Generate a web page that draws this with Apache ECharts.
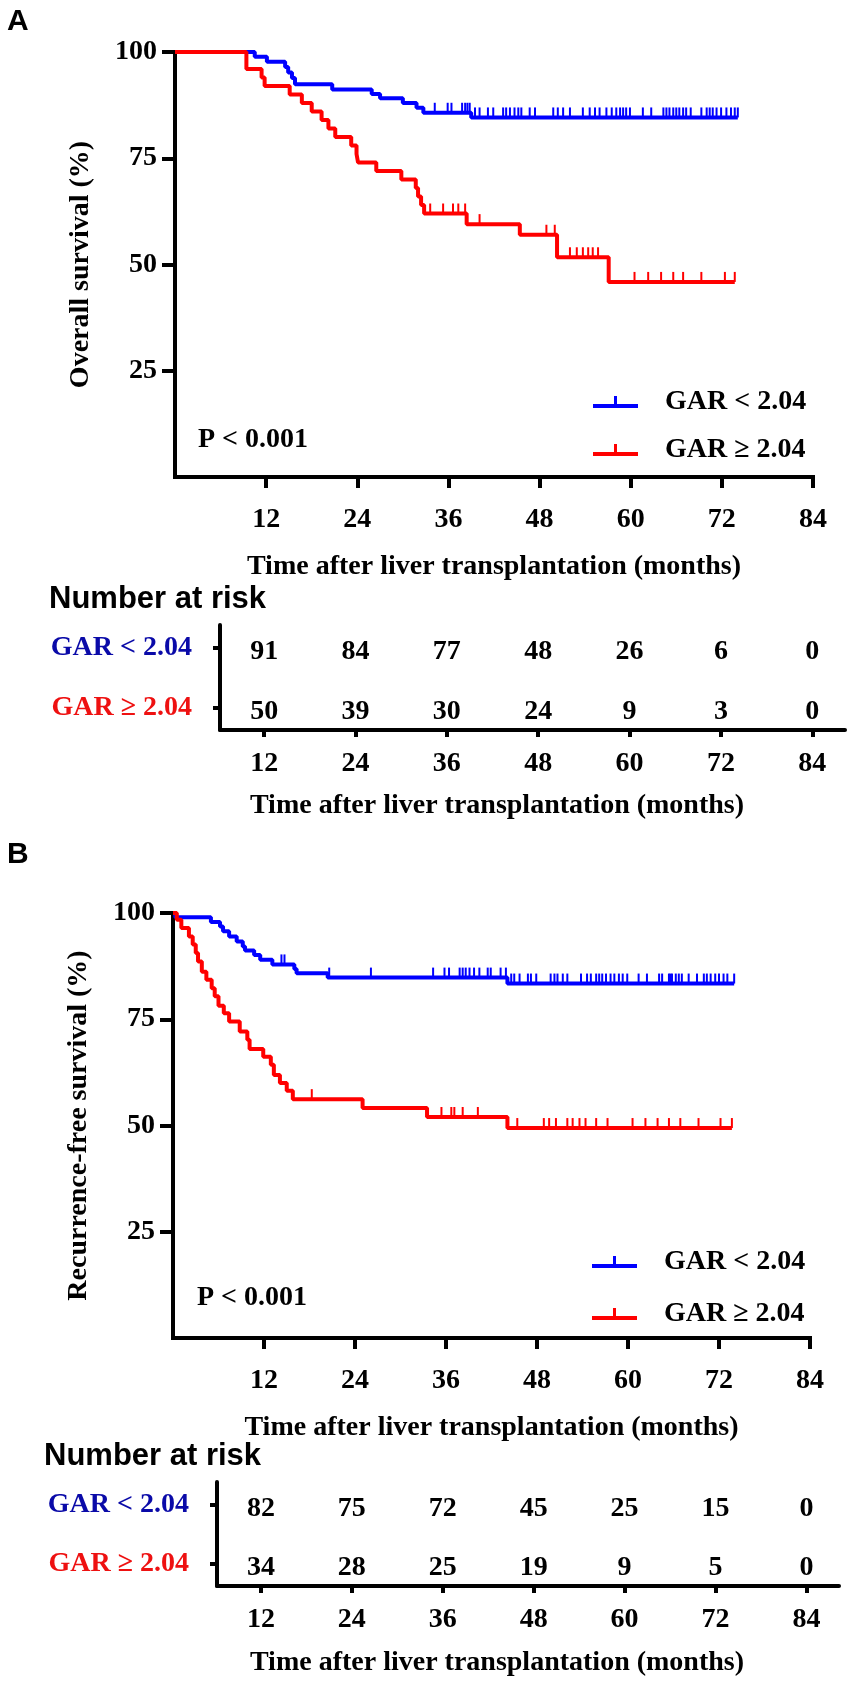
<!DOCTYPE html>
<html>
<head>
<meta charset="utf-8">
<script src="https://cdn.jsdelivr.net/npm/echarts@6/dist/echarts.min.js"></script>
<style>
  html, body { margin: 0; padding: 0; background: #fff; }
  #main { width: 851px; height: 1684px; }
</style>
</head>
<body>
<div id="main"></div>
<script>
// ---- data ----
const tickMonths = [12, 24, 36, 48, 60, 72, 84];
const survTicks = [25, 50, 75, 100];
const groupNames = ['GAR < 2.04', 'GAR \u2265 2.04'];

// A: overall survival, step points (month, %)
const osLowTime = [0, 10.5, 12.1, 14.5, 14.9, 15.4, 15.8, 20.7, 25.9, 27.0, 30.0, 31.8, 32.7, 39.0, 74.1];
const osLowSurv = [100, 98.9, 97.7, 96.5, 95.2, 93.9, 92.4, 91.2, 90.1, 89.1, 88.0, 86.9, 85.7, 84.6, 84.6];
const osLowCensor = [34.2, 35.9, 36.4, 37.8, 38.2, 38.5, 38.8, 39.5, 40.1, 41.2, 41.9, 43.2, 43.6, 44.1, 44.7,
  45.2, 45.6, 46.7, 47.4, 49.8, 50.4, 51.1, 52.0, 53.7, 54.6, 55.3, 55.9, 56.8, 57.5, 58.1, 58.6, 59.0, 59.4,
  59.9, 61.6, 62.7, 64.3, 64.7, 65.1, 65.6, 66.0, 66.4, 66.9, 67.3, 67.9, 69.3, 70.0, 70.4, 70.8, 71.3, 71.9,
  72.6, 73.2, 73.7, 74.1];

const osHighTime = [0, 9.4, 11.4, 11.8, 15.1, 16.7, 18.0, 19.3, 20.2, 21.1, 23.2, 23.9, 24.1, 26.5, 29.8,
  31.7, 32.0, 32.4, 32.8, 38.4, 45.4, 50.3, 57.1, 73.7];
const osHighSurv = [100, 96.0, 94.0, 92.0, 90.0, 88.0, 86.0, 84.0, 82.0, 80.0, 78.0, 76.0, 74.0, 72.0, 70.0,
  68.0, 66.0, 64.0, 62.0, 59.5, 57.0, 51.7, 45.9, 45.9];
const osHighCensor = [33.6, 35.3, 36.6, 37.3, 38.2, 40.1, 48.9, 50.0, 52.0, 52.9, 53.7, 54.4, 55.0, 55.7,
  60.5, 62.3, 64.0, 65.6, 66.9, 69.3, 72.4, 73.7];

// B: recurrence-free survival
const rfsLowTime = [0, 0.3, 5.0, 6.2, 6.6, 7.4, 8.4, 9.2, 9.5, 10.7, 11.5, 13.1, 16.0, 16.3, 20.4, 44.1, 74.0];
const rfsLowSurv = [100, 99.0, 97.9, 96.8, 95.7, 94.5, 93.3, 92.1, 91.2, 90.1, 89.0, 87.9, 86.8, 85.8, 84.8, 83.4, 83.4];
const rfsLowCensor = [14.3, 14.7, 20.6, 26.1, 34.3, 35.8, 36.4, 37.8, 38.2, 38.6, 39.1, 39.7, 40.4, 41.5, 41.9,
  43.2, 43.9, 44.6, 45.0, 45.7, 46.8, 47.2, 47.9, 49.8, 50.3, 50.7, 51.4, 52.0, 53.8, 54.6, 55.1, 55.8, 56.2,
  56.6, 57.1, 57.7, 58.2, 58.8, 59.3, 59.9, 61.4, 62.5, 64.1, 64.5, 65.4, 65.6, 65.8, 66.3, 66.7, 67.1, 68.0,
  69.1, 70.0, 70.4, 70.9, 71.5, 72.0, 72.6, 73.1, 74.0];

const rfsHighTime = [0, 0.5, 1.1, 2.1, 2.6, 3.0, 3.3, 3.8, 4.4, 5.1, 5.5, 6.0, 6.7, 7.4, 8.8, 9.8, 10.1,
  11.9, 12.9, 13.3, 14.1, 15.0, 15.8, 25.0, 33.5, 44.1, 73.7];
const rfsHighSurv = [100, 98.4, 96.5, 94.5, 92.6, 90.6, 88.6, 86.2, 84.3, 82.3, 80.4, 78.2, 76.4, 74.5, 72.1,
  70.2, 68.0, 66.2, 64.3, 61.9, 60.0, 58.2, 56.2, 54.1, 52.0, 49.4, 49.4];
const rfsHighCensor = [18.3, 35.4, 36.7, 37.1, 38.2, 40.2, 45.4, 48.9, 49.6, 50.5, 52.0, 52.7, 53.6, 54.4,
  55.8, 57.3, 60.6, 62.3, 63.9, 65.4, 66.9, 69.3, 72.2, 73.7];

// numbers at risk at 12..84 months
const osRiskLow = [91, 84, 77, 48, 26, 6, 0];
const osRiskHigh = [50, 39, 30, 24, 9, 3, 0];
const rfsRiskLow = [82, 75, 72, 45, 25, 15, 0];
const rfsRiskHigh = [34, 28, 25, 19, 9, 5, 0];

// ---- styling ----
const SERIF = '"Liberation Serif", "Times New Roman", serif';
const SANS = '"Liberation Sans", Arial, sans-serif';
const BLUE = '#0000ff';
const RED = '#ff0000';
const LABEL_BLUE = '#0a0aa8';
const LABEL_RED = '#ee1111';
const txt = { fontFamily: SERIF, fontWeight: 'bold', fontSize: 28, color: '#000' };
const axisLineStyle = { color: '#000', width: 4, cap: 'square' };

function zip(times, vals) {
  return times.map((t, i) => [t, vals[i]]);
}

// level of a step curve at time t (to put censor marks on the curve)
function levelAt(times, vals, t) {
  let v = vals[0];
  for (let i = 0; i < times.length; i++) {
    if (times[i] <= t) v = vals[i];
  }
  return v;
}

const grids = [];
const xAxes = [];
const yAxes = [];
const series = [];

function addPanel(p) {
  const g = grids.length;
  // survival plot
  grids.push({ left: p.plot.left, top: p.plot.top, width: p.plot.width, height: p.plot.height });
  xAxes.push({
    type: 'value', gridIndex: g, min: 0, max: 84,
    name: 'Time after liver transplantation (months)',
    nameLocation: 'middle', nameGap: 76, nameTextStyle: txt,
    axisLine: { onZero: false, lineStyle: axisLineStyle },
    axisTick: { show: true, customValues: tickMonths, length: 11, lineStyle: { color: '#000', width: 4 } },
    axisLabel: Object.assign({ customValues: tickMonths, margin: 29 }, txt),
    splitLine: { show: false }
  });
  yAxes.push({
    type: 'value', gridIndex: g, min: 0, max: 100,
    name: p.yName, nameLocation: 'middle', nameGap: 80, nameTextStyle: txt,
    axisLine: { onZero: false, lineStyle: axisLineStyle },
    axisTick: { show: true, customValues: survTicks, length: 13, lineStyle: { color: '#000', width: 4 } },
    axisLabel: Object.assign({ customValues: survTicks, margin: 18 }, txt),
    splitLine: { show: false }
  });

  const curves = [
    { name: groupNames[0], t: p.lowTime, s: p.lowSurv, c: p.lowCensor, color: BLUE },
    { name: groupNames[1], t: p.highTime, s: p.highSurv, c: p.highCensor, color: RED }
  ];
  curves.forEach(cv => {
    series.push({
      type: 'line', name: cv.name, xAxisIndex: g, yAxisIndex: g,
      step: 'end', showSymbol: false, symbol: 'none',
      data: zip(cv.t, cv.s),
      lineStyle: { color: cv.color, width: 4 },
      itemStyle: { color: cv.color },
      animation: false
    });
    series.push({
      type: 'scatter', xAxisIndex: g, yAxisIndex: g,
      data: cv.c.map(t => [t, levelAt(cv.t, cv.s, t)]),
      symbol: 'rect', symbolSize: [2, 10], symbolOffset: [0, -5],
      itemStyle: { color: cv.color, opacity: 1 },
      silent: true, animation: false
    });
  });

  // number at risk table
  const r = grids.length;
  grids.push({ left: p.risk.left, top: p.risk.top, width: p.risk.width, height: p.risk.height });
  xAxes.push({
    type: 'value', gridIndex: r, min: 6.2, max: 88.3,
    axisLine: { onZero: false, lineStyle: { color: '#000', width: 4 } },
    axisTick: { show: true, customValues: tickMonths, length: 7, lineStyle: { color: '#000', width: 4 } },
    axisLabel: Object.assign({ customValues: tickMonths, margin: 20 }, txt),
    splitLine: { show: false }
  });
  yAxes.push({
    type: 'value', gridIndex: r, min: -0.38, max: 1.38,
    axisLine: { onZero: false, lineStyle: { color: '#000', width: 4 } },
    axisTick: { show: true, customValues: [0, 1], length: 7, lineStyle: { color: '#000', width: 4 } },
    axisLabel: {
      customValues: [0, 1], margin: 28,
      formatter: v => (v === 1 ? '{lo|' + groupNames[0] + '}' : '{hi|' + groupNames[1] + '}'),
      rich: {
        lo: Object.assign({}, txt, { color: LABEL_BLUE }),
        hi: Object.assign({}, txt, { color: LABEL_RED })
      }
    },
    splitLine: { show: false }
  });
  [[p.riskLow, 1], [p.riskHigh, 0]].forEach(([vals, row]) => {
    series.push({
      type: 'scatter', xAxisIndex: r, yAxisIndex: r,
      data: tickMonths.map((m, i) => [m, row, vals[i]]),
      symbolSize: 1, itemStyle: { color: 'rgba(0,0,0,0)', opacity: 1 },
      label: Object.assign({
        show: true, position: 'inside', offset: [0, 4], textBorderWidth: 0,
        formatter: q => String(q.value[2])
      }, txt),
      silent: true, animation: false
    });
  });
}

addPanel({
  yName: 'Overall survival (%)',
  plot: { left: 175, top: 52, width: 638, height: 425 },
  risk: { left: 220, top: 625, width: 625, height: 105 },
  lowTime: osLowTime, lowSurv: osLowSurv, lowCensor: osLowCensor,
  highTime: osHighTime, highSurv: osHighSurv, highCensor: osHighCensor,
  riskLow: osRiskLow, riskHigh: osRiskHigh
});
addPanel({
  yName: 'Recurrence-free survival (%)',
  plot: { left: 173, top: 913, width: 637, height: 425 },
  risk: { left: 217, top: 1482, width: 622, height: 104 },
  lowTime: rfsLowTime, lowSurv: rfsLowSurv, lowCensor: rfsLowCensor,
  highTime: rfsHighTime, highSurv: rfsHighSurv, highCensor: rfsHighCensor,
  riskLow: rfsRiskLow, riskHigh: rfsRiskHigh
});

const legendIcon = 'path://M0,8 h45 v4 h-45 z M21,0 h3 v8 h-3 z';
function legendAt(left, top, gap) {
  return {
    data: groupNames, orient: 'vertical', left, top,
    icon: legendIcon, itemWidth: 45, itemHeight: 12, itemGap: gap,
    textStyle: Object.assign({ padding: [0, 0, 0, 22], lineHeight: 30 }, txt),
    selectedMode: false
  };
}

function label(text, x, y, font, align) {
  return {
    type: 'text', x, y,
    style: { text, font, fill: '#000', textAlign: align || 'left', textVerticalAlign: 'middle' }
  };
}
const serifFont = 'bold 28px ' + SERIF;
const sansFont = 'bold 31px ' + SANS;

const option = {
  backgroundColor: '#fff',
  animation: false,
  grid: grids,
  xAxis: xAxes,
  yAxis: yAxes,
  legend: [legendAt(588, 382, 18), legendAt(587, 1242, 22)],
  series,
  graphic: [
    label('A', 7, 22, 'bold 30px ' + SANS),
    label('B', 7, 855, 'bold 30px ' + SANS),
    label('P < 0.001', 198, 440, serifFont),
    label('P < 0.001', 197, 1298, serifFont),
    label('Number at risk', 49, 599, sansFont),
    label('Number at risk', 44, 1456, sansFont),
    label('Time after liver transplantation (months)', 497, 806, serifFont, 'center'),
    label('Time after liver transplantation (months)', 497, 1663, serifFont, 'center')
  ]
};

const chart = echarts.init(document.getElementById('main'));
chart.setOption(option);
</script>
</body>
</html>
